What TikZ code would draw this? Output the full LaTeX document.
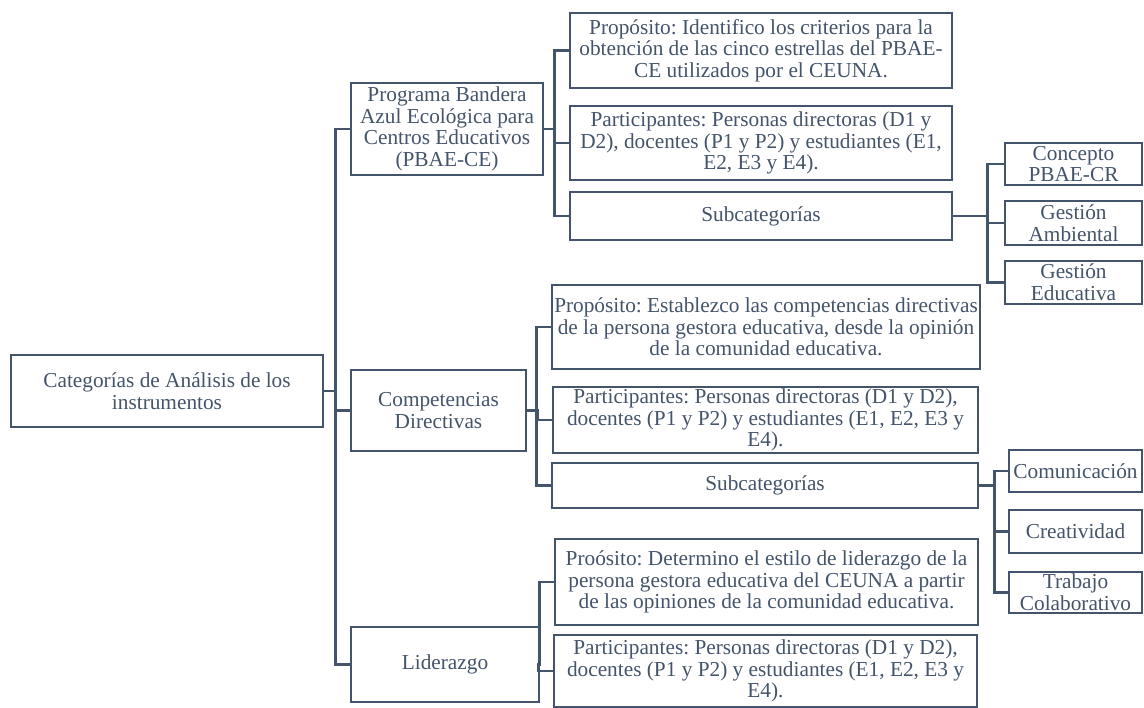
\documentclass[tikz,border=0pt]{standalone}
\usepackage{fontspec}
\setmainfont{Liberation Serif}
\definecolor{ln}{HTML}{44546A}
\begin{document}
\begin{tikzpicture}[x=1pt,y=-1pt,
  bx/.style={draw=ln, line width=2.5pt, fill=white, text=ln, inner sep=0pt,
    align=center, font=\fontsize{21.3}{21.7}\selectfont\frenchspacing},
  cn/.style={draw=ln, line width=2.6pt}]
\useasboundingbox[fill=white] (0,0) rectangle (1144,708);
% level 0
\node[bx, minimum width=312, minimum height=72] (root) at (167,391)
  {Categorías de Análisis de los\\instrumentos};
% level 1
\node[bx, minimum width=192, minimum height=92] (pbae) at (447,129)
  {Programa Bandera\\Azul Ecológica para\\Centros Educativos\\(PBAE-CE)};
\node[bx, minimum width=175, minimum height=81] (comp) at (438.5,410.5)
  {Competencias\\Directivas};
\node[bx, minimum width=188, minimum height=75] (lid) at (445,664.5)
  {Liderazgo};
% PBAE children
\node[bx, minimum width=382, minimum height=75] (p1) at (761,50.5)
  {Propósito: Identifico los criterios para la\\obtención de las cinco estrellas del PBAE-\\CE utilizados por el CEUNA.};
\node[bx, minimum width=382, minimum height=74] (p2) at (761,143)
  {Participantes: Personas directoras (D1 y\\D2), docentes (P1 y P2) y estudiantes (E1,\\E2, E3 y E4).};
\node[bx, minimum width=382, minimum height=48] (p3) at (761,216)
  {Subcategorías};
\node[bx, minimum width=137, minimum height=42] (s1) at (1073.5,164)
  {Concepto\\PBAE-CR};
\node[bx, minimum width=137, minimum height=44] (s2) at (1073.5,223)
  {Gestión\\Ambiental};
\node[bx, minimum width=137, minimum height=43] (s3) at (1073.5,282.5)
  {Gestión\\Educativa};
% Competencias children
\node[bx, minimum width=428, minimum height=84] (cp1) at (766,327)
  {Propósito: Establezco las competencias directivas\\de la persona gestora educativa, desde la opinión\\de la comunidad educativa.};
\node[bx, minimum width=425, minimum height=66] (cp2) at (765.5,420)
  {Participantes: Personas directoras (D1 y D2),\\docentes (P1 y P2) y estudiantes (E1, E2, E3 y\\E4).};
\node[bx, minimum width=426, minimum height=45] (cp3) at (765,485.5)
  {Subcategorías};
\node[bx, minimum width=133, minimum height=42] (c1) at (1075.5,471)
  {Comunicación};
\node[bx, minimum width=133, minimum height=43] (c2) at (1075.5,531.5)
  {Creatividad};
\node[bx, minimum width=133, minimum height=41] (c3) at (1075.5,592.5)
  {Trabajo\\Colaborativo};
% Liderazgo children
\node[bx, minimum width=423, minimum height=86] (lp1) at (766.5,582)
  {Proósito: Determino el estilo de liderazgo de la\\persona gestora educativa del CEUNA a partir\\de las opiniones de la comunidad educativa.};
\node[bx, minimum width=423, minimum height=72] (lp2) at (765.5,671)
  {Participantes: Personas directoras (D1 y D2),\\docentes (P1 y P2) y estudiantes (E1, E2, E3 y\\E4).};
% connectors
\foreach \c in {pbae,comp,lid}
  \draw[cn] (root.east) -| ([xshift=-14pt]\c.west) -- (\c.west);
\foreach \c in {p1,p2,p3}
  \draw[cn] (pbae.east) -| ([xshift=-14pt]\c.west) -- (\c.west);
\foreach \c in {s1,s2,s3}
  \draw[cn] (p3.east) -| ([xshift=-16pt]\c.west) -- (\c.west);
\foreach \c in {cp1,cp2,cp3}
  \draw[cn] (comp.east) -| ([xshift=-14pt]\c.west) -- (\c.west);
\foreach \c in {c1,c2,c3}
  \draw[cn] (cp3.east) -| ([xshift=-13pt]\c.west) -- (\c.west);
\foreach \c in {lp1,lp2}
  \draw[cn] (lid.east) -| ([xshift=-14pt]\c.west) -- (\c.west);
\end{tikzpicture}
\end{document}
